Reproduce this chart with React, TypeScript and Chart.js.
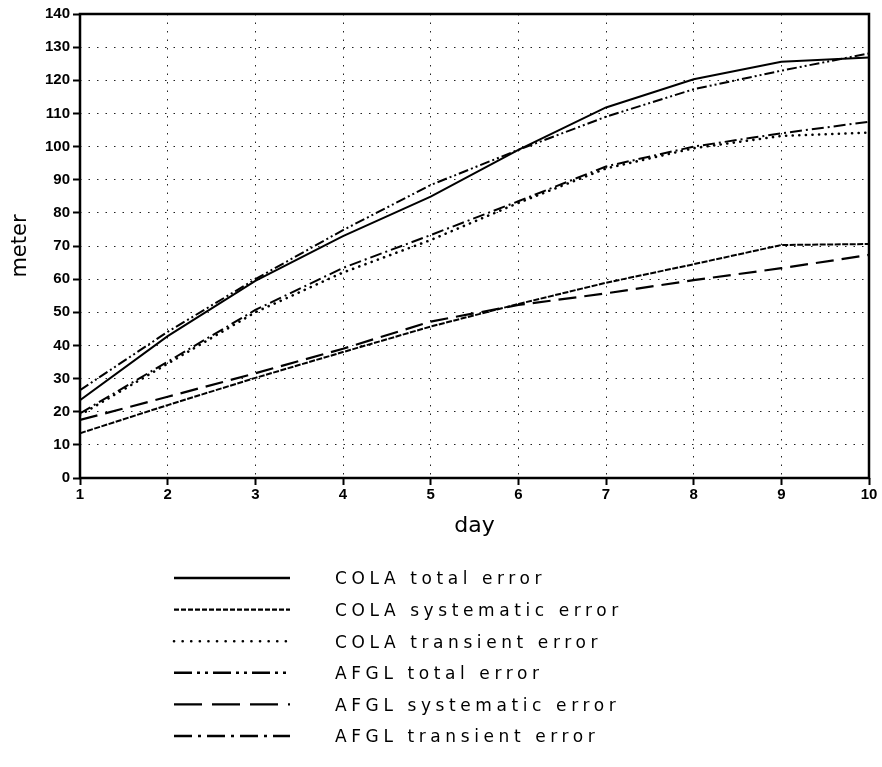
import React, { useEffect, useRef } from "react";
import { Chart, registerables } from "chart.js";

Chart.register(...registerables);

const days = [1, 2, 3, 4, 5, 6, 7, 8, 9, 10];
const colaTotal = [23.5, 42.8, 59.5, 73, 84.9, 99, 111.8, 120.3, 125.6, 126.9];
const colaSystematic = [13.5, 22, 30.2, 38, 45.7, 52.5, 58.9, 64.5, 70.3, 70.6];
const colaTransient = [19, 34.5, 50, 62, 71.8, 83, 93.4, 99.5, 103.2, 104.2];
const afglTotal = [26.5, 44.1, 60, 74.8, 88.4, 99, 109, 117.3, 122.9, 128.1];
const afglSystematic = [17.5, 24.5, 31.6, 39, 47.2, 52.2, 55.7, 59.7, 63.3, 67.3];
const afglTransient = [19.5, 35.1, 50.7, 63.4, 73.3, 83.5, 94, 100, 104, 107.5];

const seriesLabels = [
  "COLA total error",
  "COLA systematic error",
  "COLA transient error",
  "AFGL total error",
  "AFGL systematic error",
  "AFGL transient error",
];
const seriesValues = [colaTotal, colaSystematic, colaTransient, afglTotal, afglSystematic, afglTransient];
const chartDashes = [[], [6, 1.5], [0.1, 6.5], [10, 3, 2, 3, 2, 3], [18, 8], [12, 4, 2, 4]];
const legendDashes = [[], [5, 2], [0.1, 8.5], [18, 5, 3, 5, 3, 5], [28, 10], [18, 6, 3, 6]];
const lineWidths = [2, 2, 2.6, 2, 2.2, 2];

const xTitle = "day";
const yTitle = "meter";

export default function App() {
  const ref = useRef<HTMLCanvasElement>(null);

  useEffect(() => {
    if (!ref.current) return;

    const framePlugin = {
      id: "frame",
      afterDraw(chart: any) {
        const { ctx, chartArea } = chart;
        const { left, top, right, bottom } = chartArea;
        ctx.save();
        ctx.setLineDash([]);
        ctx.strokeStyle = "#000";
        ctx.lineWidth = 2.5;
        ctx.strokeRect(left, top, right - left, bottom - top);
        ctx.restore();
      },
    };

    const legendPlugin = {
      id: "customLegend",
      afterDraw(chart: any) {
        const { ctx } = chart;
        ctx.save();
        seriesLabels.forEach((label, i) => {
          const y = 578 + i * 31.6;
          ctx.beginPath();
          ctx.setLineDash(legendDashes[i]);
          ctx.lineCap = i === 2 ? "round" : "butt";
          ctx.lineWidth = i === 2 ? 2.6 : 2.4;
          ctx.strokeStyle = "#000";
          ctx.moveTo(174, y);
          ctx.lineTo(290, y);
          ctx.stroke();
          ctx.setLineDash([]);
          ctx.fillStyle = "#000";
          ctx.font = "17px 'DejaVu Sans'";
          (ctx as any).letterSpacing = "4.6px";
          ctx.textAlign = "left";
          ctx.textBaseline = "middle";
          ctx.fillText(label, 335, y + 2);
          (ctx as any).letterSpacing = "0px";
        });
        ctx.restore();
      },
    };

    const datasets = seriesLabels.map((label, i) => ({
      label,
      data: days.map((d, j) => ({ x: d, y: seriesValues[i][j] })),
      borderColor: "#000",
      backgroundColor: "#000",
      borderWidth: lineWidths[i],
      borderDash: chartDashes[i],
      borderCapStyle: i === 2 ? "round" : "butt",
      pointRadius: 0,
      tension: 0,
      fill: false,
    }));

    const chart = new Chart(ref.current, {
      type: "line",
      data: { datasets: datasets as any },
      options: {
        responsive: false,
        animation: false,
        layout: { padding: { top: 14, right: 13, bottom: 228, left: 0 } },
        plugins: {
          legend: { display: false },
          tooltip: { enabled: false },
        },
        scales: {
          x: {
            type: "linear",
            min: 1,
            max: 10,
            afterFit(scale: any) {
              scale.height = 61;
            },
            ticks: {
              stepSize: 1,
              color: "#000",
              padding: 1,
              font: { family: "'Liberation Sans', Arial, sans-serif", size: 15, weight: "bold" },
            },
            grid: {
              color: "#222",
              lineWidth: 1,
              tickLength: 7,
              tickWidth: 2,
              tickColor: "#000",
              tickBorderDash: [],
            } as any,
            border: { display: false, dash: [1.5, 7] },
            title: {
              display: true,
              text: xTitle,
              color: "#000",
              padding: { top: 0, bottom: 0 },
              font: { family: "'DejaVu Sans', sans-serif", size: 22, lineHeight: 1.2 },
            },
          },
          y: {
            type: "linear",
            min: 0,
            max: 140,
            afterFit(scale: any) {
              scale.width = 80;
            },
            ticks: {
              stepSize: 10,
              color: "#000",
              padding: 3,
              font: { family: "'Liberation Sans', Arial, sans-serif", size: 15, weight: "bold" },
            },
            grid: {
              color: "#222",
              lineWidth: 1,
              tickLength: 7,
              tickWidth: 2,
              tickColor: "#000",
              tickBorderDash: [],
            } as any,
            border: { display: false, dash: [1.5, 7] },
            title: {
              display: true,
              text: yTitle,
              color: "#000",
              padding: { top: 8, bottom: 0 },
              font: { family: "'DejaVu Sans', sans-serif", size: 21, lineHeight: 1.2 },
            },
          },
        },
      },
      plugins: [framePlugin, legendPlugin],
    });

    return () => chart.destroy();
  }, []);

  return (
    <div style={{ position: "absolute", left: 0, top: 0, width: 882, height: 767, background: "#fff" }}>
      <canvas ref={ref} width={882} height={767} style={{ display: "block" }} />
    </div>
  );
}
